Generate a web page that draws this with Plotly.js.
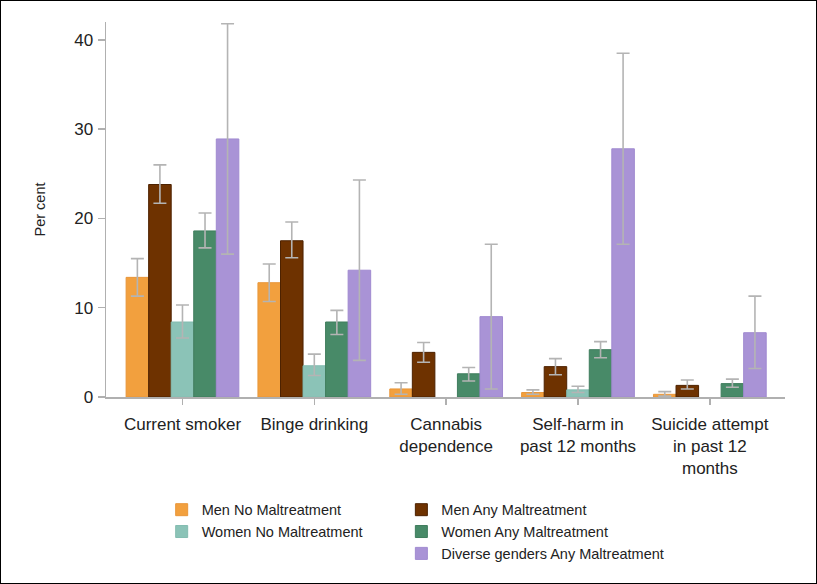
<!DOCTYPE html>
<html>
<head>
<meta charset="utf-8">
<script src="https://cdn.plot.ly/plotly-3.0.1.min.js"></script>
<style>
  html, body { margin: 0; padding: 0; background: #fff; }
  #chart { width: 815px; height: 582px; border: 1px solid #000; }
</style>
</head>
<body>
<div id="chart"></div>
<script>
// Categories (x tick labels)
const categories = [
  "Current smoker",
  "Binge drinking",
  "Cannabis<br>dependence",
  "Self-harm in<br>past 12 months",
  "Suicide attempt<br>in past 12<br>months"
];

// Series names
const seriesNames = [
  "Men No Maltreatment",
  "Men Any Maltreatment",
  "Women No Maltreatment",
  "Women Any Maltreatment",
  "Diverse genders Any Maltreatment"
];

// Values (per cent)
const menNo        = [13.4, 12.8, 0.9, 0.5, 0.3];
const menAny       = [23.8, 17.5, 5.0, 3.4, 1.3];
const womenNo      = [8.4, 3.5, null, 0.8, null];
const womenAny     = [18.6, 8.4, 2.6, 5.3, 1.5];
const diverseAny   = [28.9, 14.2, 9.0, 27.8, 7.2];

// Upper confidence limits
const menNoHi      = [15.5, 14.9, 1.6, 0.8, 0.6];
const menAnyHi     = [26.0, 19.6, 6.1, 4.3, 1.9];
const womenNoHi    = [10.3, 4.8, null, 1.2, null];
const womenAnyHi   = [20.6, 9.7, 3.3, 6.2, 2.0];
const diverseAnyHi = [41.8, 24.3, 17.1, 38.5, 11.3];

// Lower confidence limits
const menNoLo      = [11.3, 10.7, 0.3, 0.3, 0.1];
const menAnyLo     = [21.7, 15.6, 3.9, 2.5, 0.9];
const womenNoLo    = [6.6, 2.4, null, 0.5, null];
const womenAnyLo   = [16.7, 7.0, 1.8, 4.4, 1.1];
const diverseAnyLo = [16.0, 4.1, 0.9, 17.1, 3.2];

const values = [menNo, menAny, womenNo, womenAny, diverseAny];
const highs  = [menNoHi, menAnyHi, womenNoHi, womenAnyHi, diverseAnyHi];
const lows   = [menNoLo, menAnyLo, womenNoLo, womenAnyLo, diverseAnyLo];

const colors     = ["#f2a03e", "#6e3200", "#8bc3b7", "#488a68", "#a993d6"];
const lineColors = ["#e8963a", "#4d2200", "#84bcb0", "#3f7d5d", "#a08ad0"];
const legendIds  = ["legend", "legend2", "legend", "legend2", "legend2"];

const FONT = '"Liberation Sans", Arial, sans-serif';
const GREY = "#b0b0b0";

const traces = values.map((v, i) => ({
  type: "bar",
  name: seriesNames[i],
  x: categories,
  y: v,
  marker: { color: colors[i], line: { color: lineColors[i], width: 1 } },
  error_y: {
    type: "data",
    symmetric: false,
    array: v.map((d, j) => d == null ? null : highs[i][j] - d),
    arrayminus: v.map((d, j) => d == null ? null : d - lows[i][j]),
    color: "#b4b4b4",
    thickness: 1.6,
    width: 6.5
  },
  legend: legendIds[i],
  hoverinfo: "skip"
}));

const legendCommon = {
  orientation: "v",
  xanchor: "left",
  yanchor: "top",
  font: { family: FONT, size: 14.5, color: "#222" },
  bgcolor: "rgba(0,0,0,0)",
  traceorder: "normal",
  itemclick: false
};

const layout = {
  width: 815,
  height: 582,
  margin: { l: 105, r: 31, t: 21, b: 186, autoexpand: false },
  paper_bgcolor: "#fff",
  plot_bgcolor: "#fff",
  font: { family: FONT, size: 17, color: "#222" },
  barmode: "group",
  bargap: 0.145,
  bargroupgap: 0,
  showlegend: true,
  xaxis: {
    type: "category",
    range: [-0.58, 4.57],
    showline: true,
    linecolor: GREY,
    linewidth: 1.5,
    ticks: "outside",
    ticklen: 6,
    tickcolor: GREY,
    tickwidth: 1.5,
    ticklabelstandoff: 5,
    showgrid: false,
    zeroline: false,
    tickfont: { family: FONT, size: 17, color: "#222" }
  },
  yaxis: {
    range: [0, 42],
    tickvals: [0, 10, 20, 30, 40],
    showline: true,
    linecolor: GREY,
    linewidth: 1.5,
    ticks: "outside",
    ticklen: 7,
    tickcolor: GREY,
    tickwidth: 1.5,
    ticklabelstandoff: 1,
    showgrid: false,
    zeroline: false,
    tickfont: { family: FONT, size: 17, color: "#222" },
    title: { text: "Per cent", font: { family: FONT, size: 14.5, color: "#222" }, standoff: 25 }
  },
  legend: Object.assign({}, legendCommon, { x: 0.082, y: -0.258 }),
  legend2: Object.assign({}, legendCommon, { x: 0.435, y: -0.258 })
};

Plotly.newPlot("chart", traces, layout, { displayModeBar: false, staticPlot: true });
</script>
</body>
</html>
